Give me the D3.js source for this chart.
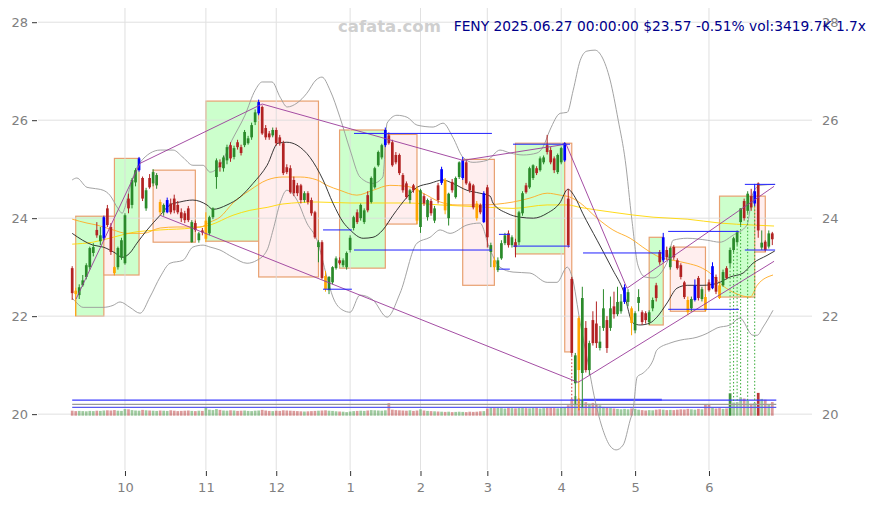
<!DOCTYPE html>
<html><head><meta charset="utf-8">
<script src="https://cdn.jsdelivr.net/npm/d3@7/dist/d3.min.js"></script>
<style>body{margin:0;background:#fff}svg{display:block}text{font-family:"DejaVu Sans",sans-serif}</style>
</head><body><svg id="c" width="876" height="505"></svg>
<script>
// ---------- DATA ----------
const ticker = "FENY";
const titleText = "FENY 2025.06.27 00:00:00 $23.57 -0.51% vol:3419.7K 1.7x";
const firstDate = "2024-09-10";
const holidays = ["2024-11-28","2024-12-25","2025-01-01","2025-01-09","2025-01-20","2025-02-17","2025-04-18","2025-05-26","2025-06-19"];
const yTicks = [20,22,24,26,28];
// [open, high, low, close]
const ohlc = [
[22.98,23.02,22.33,22.47],[22.52,22.58,22.0,22.45],[22.43,22.65,22.35,22.59],[22.63,22.84,22.6,22.73],[22.80,23.08,22.75,23.04],
[23.00,23.42,22.95,23.39],[23.29,23.49,23.22,23.41],[23.76,23.92,23.6,23.65],[23.53,23.82,23.45,23.65],[23.59,24.05,23.55,24.02],
[24.20,24.27,23.82,23.86],[23.82,23.9,23.25,23.31],[23.0,23.02,22.84,22.88],[23.0,23.42,22.95,23.39],[23.2,23.6,23.15,23.55],
[23.08,24.1,23.05,24.06],[24.40,24.5,24.1,24.2],[24.27,24.82,24.2,24.78],[24.73,25.02,24.65,24.98],[24.98,25.25,24.95,25.22],
[24.82,24.85,24.35,24.4],[24.20,24.62,24.15,24.57],[24.82,24.9,24.6,24.63],[24.71,25.0,24.65,24.94],[24.67,24.92,24.6,24.88],
[24.33,24.38,24.06,24.12],[24.12,24.3,24.05,24.27],[24.12,24.42,24.1,24.37],[24.30,24.4,24.08,24.12],[24.40,24.48,24.1,24.16],
[24.27,24.35,24.08,24.12],[24.12,24.2,23.92,24.0],[24.10,24.15,23.9,23.96],[24.20,24.25,23.92,23.96],[23.51,23.96,23.5,23.92],
[23.90,23.95,23.72,23.76],[23.55,23.72,23.5,23.69],[23.75,23.8,23.65,23.71],[23.58,24.12,23.51,23.95],[23.69,24.05,23.65,24.02],
[24.02,24.22,23.98,24.2],[24.84,25.22,24.6,25.18],[25.14,25.2,24.95,25.04],[25.02,25.28,24.95,25.24],[25.18,25.5,25.1,25.45],
[25.49,25.55,25.15,25.22],[25.25,25.48,25.2,25.43],[25.55,25.6,25.4,25.45],[25.45,25.5,25.28,25.33],[25.49,25.8,25.45,25.76],
[25.53,25.68,25.5,25.63],[25.65,25.95,25.6,25.9],[25.96,26.22,25.9,26.16],[26.14,26.42,26.1,26.37],[26.27,26.3,25.7,25.73],
[25.84,25.9,25.6,25.65],[25.73,25.78,25.6,25.65],[25.69,25.85,25.65,25.8],[25.80,25.85,25.48,25.53],[25.65,25.7,25.48,25.53],
[25.53,25.58,24.88,24.92],[25.04,25.1,24.9,24.94],[25.02,25.08,24.5,24.53],[24.78,24.85,24.45,24.51],[24.67,24.72,24.45,24.51],
[24.67,24.7,24.3,24.37],[24.37,24.55,24.32,24.51],[24.51,24.55,24.28,24.33],[24.37,24.42,24.05,24.1],[24.12,24.15,23.58,23.61],
[23.41,23.55,23.1,23.51],[23.51,23.55,22.75,22.78],[22.82,22.92,22.5,22.55],[22.53,22.82,22.45,22.8],[22.69,23.02,22.65,23.0],
[22.98,23.22,22.95,23.18],[23.14,23.2,23.05,23.08],[23.04,23.18,23.0,23.14],[23.0,23.32,22.95,23.29],[23.35,23.65,23.3,23.6],
[23.80,24.05,23.75,24.02],[24.12,24.18,23.88,23.92],[24.0,24.3,23.95,24.27],[23.92,24.2,23.88,24.16],[24.47,24.55,24.12,24.16],
[24.33,24.85,24.3,24.82],[24.63,25.05,24.6,25.02],[25.08,25.38,25.05,25.35],[25.24,25.52,25.2,25.49],[25.49,25.85,25.45,25.8],
[25.69,25.75,25.5,25.53],[25.55,25.6,25.05,25.08],[25.29,25.35,25.1,25.14],[25.29,25.32,24.88,24.92],[24.88,24.92,24.52,24.57],
[24.71,24.75,24.4,24.43],[24.37,24.6,24.3,24.57],[24.67,24.7,24.52,24.57],[24.6,24.65,23.88,23.95],[23.82,24.6,23.7,24.57],
[24.45,24.5,24.25,24.3],[24.02,24.4,23.95,24.37],[24.35,24.4,24.05,24.1],[23.95,24.25,23.9,24.2],[24.67,24.72,24.3,24.37],
[24.72,25.05,24.68,25.0],[24.78,24.82,24.08,24.16],[24.0,24.52,23.85,24.5],[24.74,24.8,24.52,24.57],[24.43,24.85,24.4,24.82],
[24.84,25.16,24.8,25.14],[24.82,25.25,24.78,25.18],[25.14,25.18,24.68,24.71],[24.71,24.75,24.52,24.57],[24.67,24.7,24.18,24.22],
[24.3,24.35,23.95,24.0],[24.27,24.3,24.08,24.12],[23.92,24.55,23.9,24.51],[24.63,24.68,23.4,23.61],[23.31,23.5,23.0,23.45],
[23.14,23.2,22.94,23.0],[22.94,23.2,22.9,23.14],[23.18,23.55,23.15,23.49],[23.49,23.7,23.45,23.65],[23.69,23.75,23.4,23.45],
[23.45,23.65,23.4,23.61],[23.51,23.58,23.2,23.41],[23.51,24.15,23.45,24.12],[24.1,24.55,24.05,24.51],[24.67,24.72,24.5,24.53],
[24.63,25.05,24.6,25.02],[24.82,25.1,24.78,25.08],[25.02,25.06,24.88,24.92],[24.98,25.26,24.95,25.22],[25.14,25.28,25.1,25.24],
[25.49,25.7,25.3,25.35],[25.39,25.45,25.1,25.14],[25.22,25.26,24.92,24.98],[24.94,25.32,24.9,25.29],[25.14,25.46,25.1,25.43],
[25.18,25.55,25.15,25.53],[24.4,24.6,23.4,23.45],[22.76,22.8,21.2,21.25],[20.63,21.25,20.2,21.2],[21.96,22.0,20.08,20.9],
[20.84,22.6,20.14,22.37],[21.76,21.9,20.85,20.9],[20.9,21.5,20.8,21.45],[21.92,22.1,21.4,21.45],[21.85,22.3,21.35,21.45],
[21.35,21.8,21.3,21.48],[21.76,22.55,21.7,22.16],[21.92,22.0,21.25,21.35],[21.76,22.4,21.7,22.16],[22.2,22.5,21.95,22.04],
[22.04,22.6,22.0,22.29],[22.1,22.45,22.05,22.3],[22.29,22.65,22.25,22.59],[22.29,22.55,22.2,22.49],[22.16,22.2,21.61,21.86],
[21.71,22.1,21.65,22.06],[22.27,22.55,22.1,22.39],[22.08,22.12,21.82,21.88],[22.06,22.1,21.85,21.92],[21.88,22.12,21.82,22.08],
[22.16,22.38,22.1,22.33],[22.63,22.68,22.3,22.37],[23.31,23.35,23.05,23.1],[23.14,23.7,23.1,23.61],[23.35,23.42,23.15,23.2],
[23.0,23.42,22.95,23.39],[23.41,23.45,23.15,23.2],[23.14,23.18,22.95,22.98],[23.04,23.08,22.75,22.8],[22.69,22.72,22.35,22.39],
[22.33,22.4,22.02,22.08],[22.16,22.4,22.1,22.35],[22.33,22.75,22.3,22.63],[22.78,22.82,22.32,22.37],[22.35,22.6,22.3,22.55],
[22.39,22.45,22.1,22.12],[22.69,22.75,22.5,22.53],[22.57,23.1,22.55,23.02],[22.8,22.85,22.45,22.5],[22.63,22.68,22.35,22.37],
[22.63,22.95,22.6,22.9],[22.98,23.02,22.75,22.78],[23.08,23.4,23.0,23.35],[23.35,23.62,23.3,23.59],[23.51,23.75,23.45,23.71],
[23.92,24.2,23.85,24.2],[24.35,24.4,23.95,24.0],[24.15,24.55,24.1,24.5],[24.45,24.6,24.15,24.22],[24.3,24.7,24.25,24.55],
[24.71,24.73,23.6,23.75],[23.4,23.75,23.35,23.5],[23.52,23.55,23.32,23.35],[23.42,23.75,23.38,23.69],[23.69,23.72,23.45,23.57]
];
// volume in thousands
const volumeK = [
1250,1150,1200,1150,1100,1200,1150,1250,1200,1300,1350,1300,1400,1250,1200,
1650,1600,1400,1300,1250,1450,1350,1300,1250,1200,1300,1250,1200,1350,1250,1150,1200,1250,1300,1200,1150,1250,1200,
1950,1500,1400,1650,1450,1300,1250,1350,1300,1200,1250,1300,1200,1150,1250,1300,1450,1300,1200,1150,
1250,1200,1350,1300,1250,1200,1150,1100,1050,1100,1150,1200,1250,1300,1350,1250,1200,1100,1050,1000,900,
1050,1150,1200,1250,1200,1300,1400,1350,1300,1250,1350,3150,1500,1400,1350,1300,1250,1350,1200,1300,
1600,1300,1200,1150,1100,1050,1000,950,1000,900,950,1000,950,900,1000,950,1000,1100,1150,
1800,2000,1900,2100,1900,1800,2000,1900,1850,2100,2000,1900,1850,2000,1950,1800,1900,2000,2100,1900,1850,2000,2100,
2600,4200,4900,4300,4000,3400,3000,3200,2800,2600,
2200,2000,1900,1800,1700,1600,1700,1600,1800,1700,1500,1400,1300,1400,1350,1500,
1600,1500,1400,1450,1400,1500,1600,1550,1700,1600,1500,1700,1600,2900,2900,2000,1800,1900,1700,1800,
5600,3300,3400,4600,4300,3700,3000,3200,5700,4200,4000,2700,3420
];
const signalUp = [9,19,27,53,89,105,111,117,140,157,168,177,182,194];
const signalDn = [1,12,25,38,72,98,106,115,120,144,159,175,180,184];
const volSpike = [142,144,187,188,189,190,192,194];
const volStrong = [187,195];
const volLevels = [3900,2850,2100];
const volLevelColors = ["#3a3aff","#999999","#5a5af0"];
const volBand = [145.2,167.6,3950];
// boxes
const boxStart = [1,9,12,23,38,53,76,89,111,126,140,164,170,184,194];
const boxEnd   = [9,12,19,35,53,70,89,98,120,140,142,168,180,194,197];
const boxHigh  = [24.04,24.04,25.22,24.98,26.39,26.39,25.8,25.71,25.2,25.53,25.53,23.61,23.41,24.45,24.45];
const boxLow   = [22.0,22.84,22.84,23.51,23.53,22.8,22.98,23.88,22.63,23.27,21.27,21.82,22.1,22.39,23.31];
const boxUp    = [1,0,1,0,1,0,1,0,0,1,0,1,0,1,0];
// blue support/resistance segments [startIdx, endIdx, price]
const levels = [
[71.3,79.5,23.76],[71.3,79.5,22.55],[80.1,119.3,25.73],[80.1,119.3,23.35],[121.3,124.4,23.67],[121.3,124.4,22.96],
[125.3,141.5,25.51],[125.3,141.5,23.43],[145.2,167.6,23.29],[169.4,189.5,23.73],[169.4,189.5,22.14],[191.2,199.8,24.69],[191.2,199.8,23.35]
];
// purple trend lines [idx, price]
const trendUpper = [[1.1,22.35],[19.3,25.12],[54,26.33],[111.1,25.18],[140.4,25.51],[157.7,22.57],[199.5,24.65]];
const trendLower = [[24.96,24.06],[143.8,20.65],[199.5,23.12]];
// indicator lines [idx, price]
const ma20 = [[0,23.69],[5.9,23.45],[8.8,23.41],[12.2,23.29],[14.2,23.2],[16.4,23.29],[18.4,23.49],[21.3,23.76],[25,24.06],[27.8,24.27],[30.6,24.33],[34.3,24.37],[38.3,24.27],[40,24.18],[44,24.27],[47.7,24.43],[51.4,24.71],[55.4,25.08],[58.5,25.53],[61,25.55],[63.9,25.49],[67.6,25.24],[71.3,24.78],[74.1,24.31],[77,23.92],[79,23.76],[82.7,23.59],[85.5,23.61],[88.3,23.76],[91.2,24.06],[95.2,24.43],[98,24.63],[101.7,24.71],[105.4,24.78],[108.2,24.71],[112.2,24.57],[115.9,24.51],[118.8,24.45],[119.6,24.31],[123.6,24.1],[127.3,24.02],[131.1,24.0],[135,24.1],[138.6,24.31],[140.9,24.59],[142.9,24.43],[145.1,24.1],[149.2,23.55],[153.7,22.94],[156.6,22.53],[159.4,21.86],[161.4,21.82],[164.2,21.86],[166.2,21.98],[169.1,22.27],[171.9,22.57],[174.8,22.63],[179.3,22.63],[183.3,22.67],[187,22.8],[190.7,22.88],[193.5,23.08],[197.5,23.24],[199.7,23.33]];
const bbUpper = [[0,24.78],[1.3,24.82],[4.2,24.63],[5.9,24.61],[8.8,24.57],[10.7,24.47],[13,24.2],[14.2,24.1],[15,24.22],[16.4,24.63],[19.3,25.14],[25,25.39],[28.7,25.39],[31.5,25.24],[34.3,25.08],[37.2,25.08],[39.2,24.94],[42,25.08],[45.4,25.59],[49.1,26.1],[52,26.61],[54,26.78],[56.8,26.78],[59.1,26.47],[61.1,26.27],[63.9,26.35],[66.7,26.55],[69.3,26.82],[71,26.88],[73.3,26.61],[76.1,26.06],[79,25.39],[81.8,24.84],[85.5,24.71],[88.3,24.84],[89.5,25.94],[92.3,26.1],[95.2,26.06],[98,25.9],[102.6,25.86],[105.4,25.94],[108.2,25.65],[111.1,25.24],[113.9,25.14],[117.9,25.18],[121.6,25.39],[124.5,25.33],[128.2,25.29],[132.1,25.33],[133.8,25.45],[135.8,25.8],[138.7,26.14],[140.7,26.16],[142.4,26.61],[144.4,27.22],[146.3,27.41],[148.6,27.43],[150.6,27.29],[152.9,26.82],[155.2,26.0],[157.2,25.18],[159.1,23.96],[160.8,23.04],[162.8,22.8],[165.1,22.78],[169.1,23.1],[170.8,23.55],[174.8,23.59],[180.5,23.55],[184.1,23.51],[187.8,23.65],[191.8,23.86],[193.5,24.51],[195.5,24.67],[199.8,24.69]];
const bbLower = [[0,22.37],[1.3,22.27],[3.1,22.18],[8.8,22.18],[11.6,22.22],[13.6,22.29],[16.4,22.18],[19.3,22.06],[22.1,22.39],[25,22.8],[27.8,23.08],[31.5,23.14],[34.3,23.41],[37.2,23.45],[39.2,23.41],[42,23.35],[45.7,23.2],[49.7,23.08],[52.5,23.14],[55.4,23.35],[57.1,23.76],[59.1,24.31],[61,24.57],[63.9,24.37],[66.7,23.9],[69.6,23.55],[72.4,22.8],[74.1,22.39],[77,22.12],[79,22.08],[81.8,22.43],[85.5,22.33],[89.5,21.98],[93.2,22.47],[98,23.49],[101.7,23.61],[104.6,23.76],[107.4,23.69],[112.2,23.86],[115.9,23.9],[118.8,23.35],[121.6,23.0],[125.3,22.9],[130.1,22.88],[135,22.69],[137.8,22.69],[140.7,23.0],[142.1,22.8],[144.4,21.86],[146.3,21.16],[148.6,20.29],[150.9,19.67],[152.9,19.35],[154.6,19.27],[156.6,19.37],[158.6,19.88],[159.4,20.08],[160.6,20.76],[162.3,20.84],[165.1,21.1],[166.2,21.31],[169.9,21.45],[172.8,21.51],[177.6,21.57],[180.5,21.65],[183.3,21.76],[187,21.82],[189.8,21.96],[193.5,21.61],[194.7,21.61],[196.4,21.78],[199.2,22.12]];
const maOrange = [[0,23.98],[4.2,23.9],[7,23.86],[11.6,23.76],[15.6,23.69],[20.2,23.69],[25,23.8],[29.8,23.82],[36.3,23.82],[39.2,23.92],[42,24.02],[45.7,24.31],[50.5,24.57],[55.4,24.78],[59.9,24.84],[64.8,24.84],[69.6,24.78],[72.4,24.67],[76.1,24.57],[80.9,24.47],[85.5,24.57],[90.3,24.67],[95.2,24.65],[99.7,24.51],[104.6,24.33],[109.4,24.27],[115.9,24.27],[125.3,24.33],[130.1,24.41],[135,24.51],[138.7,24.47],[141.5,24.43],[144.4,24.31],[149.2,24.0],[153.7,23.76],[158.6,23.59],[163.4,23.35],[167.1,23.2],[170.8,23.14],[174.8,23.08],[178.5,23.0],[181.3,22.88],[184.1,22.67],[187.8,22.49],[190.7,22.41],[192.7,22.39],[194.7,22.63],[199.2,22.84]];
const maYellow = [[0,23.47],[5.9,23.51],[11.6,23.61],[17.3,23.71],[25,23.76],[34.3,23.8],[39.2,23.86],[45.7,24.06],[50.5,24.16],[55.4,24.22],[59.9,24.29],[69.6,24.33],[79,24.31],[95.2,24.31],[104.6,24.27],[118.8,24.22],[125.3,24.2],[135,24.27],[140.7,24.27],[144.4,24.22],[153.7,24.12],[165.1,24.02],[174.8,23.98],[184.1,23.9],[193.5,23.86],[199.5,23.84]];

// ---------- BUILD ----------
const dates = [];
{
  const hol = new Set(holidays);
  const d = new Date(firstDate + "T12:00:00Z");
  while (dates.length < ohlc.length) {
    const wd = d.getUTCDay(), iso = d.toISOString().slice(0,10);
    if (wd !== 0 && wd !== 6 && !hol.has(iso)) dates.push(iso);
    d.setUTCDate(d.getUTCDate() + 1);
  }
}
const bars = ohlc.map((r,i)=>({i, date:dates[i], o:r[0], h:r[1], l:r[2], c:r[3], v:volumeK[i]}));
const monthTicks = bars.filter((b,i)=> i>0 && b.date.slice(5,7) !== bars[i-1].date.slice(5,7)).map(b=>b.i);

const svg = d3.select("#c");
const x = d3.scaleLinear().domain([0, ohlc.length-1]).range([72.2, 772.3]);
const y = d3.scaleLinear().domain([18.86, 28.29]).range([470, 8]);
const vy = d3.scaleLinear().domain([0, 8000]).range([415.7, 383.7]);
const bw = 2.7;

const GREEN = "#2a8a2a", RED = "#b22222", BLUE = "#0000ff", ORANGE = "#ffa500";

// boxes
const boxes = boxStart.map((s,k)=>({s, e:boxEnd[k], hi:boxHigh[k], lo:boxLow[k], up:boxUp[k]}));
svg.append("g").selectAll("rect").data(boxes).join("rect")
  .attr("x", d=>x(d.s)).attr("width", d=>x(d.e)-x(d.s))
  .attr("y", d=>y(d.hi)).attr("height", d=>y(d.lo)-y(d.hi))
  .attr("fill", d=>d.up ? "#ccffcc" : "#ffeeee")
  .attr("stroke", "#e8a070").attr("stroke-width", 1.2);

// grid
const grid = svg.append("g").attr("stroke", "#dcdcdc").attr("stroke-width", 1).attr("opacity", 0.85);
grid.selectAll(".h").data(yTicks).join("line")
  .attr("x1", 38).attr("x2", 812).attr("y1", d=>y(d)).attr("y2", d=>y(d));
grid.selectAll(".v").data(monthTicks).join("line")
  .attr("x1", d=>x(d)).attr("x2", d=>x(d)).attr("y1", 8).attr("y2", 470);

// axes
const axL = svg.append("g").attr("transform","translate(37,0)")
  .call(d3.axisLeft(y).tickValues(yTicks).tickSize(5).tickPadding(4).tickFormat(d3.format("d")));
const axR = svg.append("g").attr("transform","translate(817,0)")
  .call(d3.axisRight(y).tickValues(yTicks).tickSize(0).tickPadding(5).tickFormat(d3.format("d")));
const axB = svg.append("g").attr("transform","translate(0,471)")
  .call(d3.axisBottom(x).tickValues(monthTicks).tickSize(5).tickPadding(7)
    .tickFormat(i => String(+dates[i].slice(5,7))));
[axL, axR, axB].forEach(a => {
  a.select(".domain").remove();
  a.selectAll("text").attr("fill", "#808080").style("font-size", "13px").style("font-family", "DejaVu Sans, sans-serif");
  a.selectAll("line").attr("stroke", "#333");
});

// volume
const volG = svg.append("g");
volG.selectAll("rect").data(bars).join("rect")
  .attr("x", d=>x(d.i)-bw/2).attr("width", bw)
  .attr("y", d=>vy(d.v)).attr("height", d=>vy(0)-vy(d.v))
  .attr("fill", d=> d.c >= d.o ? GREEN : RED)
  .attr("opacity", d=> volStrong.includes(d.i) ? 0.9 : 0.45);
volG.selectAll("line.lv").data(volLevels).join("line")
  .attr("x1", x(0)).attr("x2", x(ohlc.length-1)+4)
  .attr("y1", d=>vy(d)).attr("y2", d=>vy(d))
  .attr("stroke", (d,k)=>volLevelColors[k]).attr("stroke-width", 1.2);
volG.append("line").attr("x1", x(volBand[0])).attr("x2", x(volBand[1]))
  .attr("y1", vy(volBand[2])).attr("y2", vy(volBand[2]))
  .attr("stroke", "#4a4aff").attr("stroke-width", 2.2);

// indicator lines
const ln = d3.line().x(d=>x(d[0])).y(d=>y(d[1])).curve(d3.curveMonotoneX);
const indG = svg.append("g").attr("fill","none");
indG.append("path").attr("d", ln(bbUpper)).attr("stroke","#999").attr("stroke-width",0.9);
indG.append("path").attr("d", ln(bbLower)).attr("stroke","#999").attr("stroke-width",0.9);
indG.append("path").attr("d", ln(maYellow)).attr("stroke","#ffd700").attr("stroke-width",0.9);
indG.append("path").attr("d", ln(maOrange)).attr("stroke","#ffaa22").attr("stroke-width",0.9);
indG.append("path").attr("d", ln(ma20)).attr("stroke","#222").attr("stroke-width",0.9);

// dotted volume-spike connectors
svg.append("g").selectAll("line").data(bars.filter(b=>volSpike.includes(b.i))).join("line")
  .attr("x1", d=>x(d.i)).attr("x2", d=>x(d.i))
  .attr("y1", d=>y(d.l)).attr("y2", d=>vy(d.v))
  .attr("stroke", d=> d.c >= d.o ? "#33aa33" : "#cc3333")
  .attr("stroke-width", 1).attr("stroke-dasharray", "1.5,2");

// candles
const colorOf = b => signalUp.includes(b.i) ? BLUE : signalDn.includes(b.i) ? ORANGE : (b.c >= b.o ? GREEN : RED);
const cg = svg.append("g").selectAll("g").data(bars).join("g");
cg.append("line").attr("x1", d=>x(d.i)).attr("x2", d=>x(d.i))
  .attr("y1", d=>y(d.h)).attr("y2", d=>y(d.l)).attr("stroke", colorOf).attr("stroke-width", 1);
cg.append("rect").attr("x", d=>x(d.i)-bw/2).attr("width", bw)
  .attr("y", d=>y(Math.max(d.o,d.c)))
  .attr("height", d=>Math.max(1, Math.abs(y(d.o)-y(d.c))))
  .attr("fill", colorOf);

// trend lines
const tl = d3.line().x(d=>x(d[0])).y(d=>y(d[1]));
svg.append("path").attr("d", tl(trendUpper)).attr("fill","none").attr("stroke","#9a3a9a").attr("stroke-width",0.9);
svg.append("path").attr("d", tl(trendLower)).attr("fill","none").attr("stroke","#9a3a9a").attr("stroke-width",0.9);

// support / resistance segments
svg.append("g").selectAll("line").data(levels).join("line")
  .attr("x1", d=>x(d[0])).attr("x2", d=>x(d[1]))
  .attr("y1", d=>y(d[2])).attr("y2", d=>y(d[2]))
  .attr("stroke", "#2020ff").attr("stroke-width", 1);

// texts
svg.append("text").attr("x", 338).attr("y", 32).text("cafata.com")
  .attr("fill", "#cfcfcf").style("font-size","16.5px").style("font-weight","bold");
svg.append("text").attr("x", 866).attr("y", 31).attr("text-anchor","end").text(titleText)
  .attr("fill", "#00008b").style("font-size","13.8px");
</script></body></html>
